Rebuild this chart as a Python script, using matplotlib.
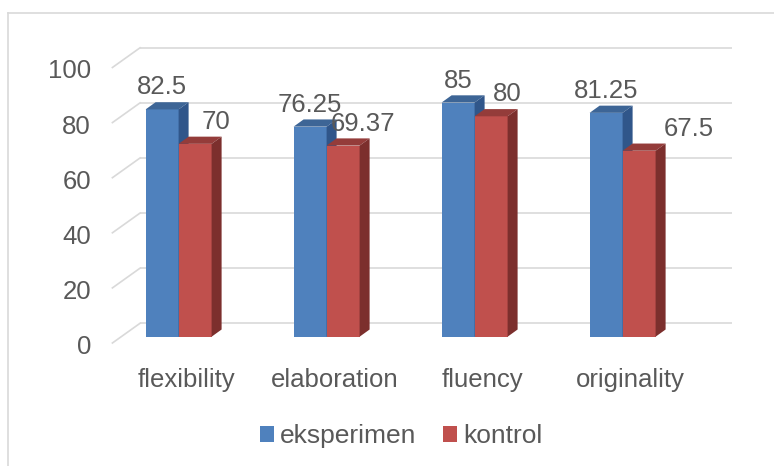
import matplotlib
matplotlib.use("Agg")
import matplotlib.pyplot as plt
from matplotlib.patches import Polygon, Patch
from matplotlib.lines import Line2D
from matplotlib.transforms import ScaledTranslation

# ---- data ----
categories = ["flexibility", "elaboration", "fluency", "originality"]
series_names = ["eksperimen", "kontrol"]
eksperimen = [82.5, 76.25, 85, 81.25]
kontrol = [70, 69.37, 80, 67.5]
y_ticks = [0, 20, 40, 60, 80, 100]

# ---- style ----
W, H, DPI = 774, 466, 100
TEXT = "#595959"
GRID = "#D9D9D9"
FACE = {"eksperimen": ("#4F81BD", "#3D6596", "#30568A"),
        "kontrol": ("#C0504D", "#943C3A", "#7C2F2D")}
FS = 18.5
FS_LEGEND = 19

plt.rcParams["font.family"] = ["Liberation Sans", "DejaVu Sans"]

fig = plt.figure(figsize=(W / DPI, H / DPI), dpi=DPI)

# axes = plane of the bars' front faces (pixel geometry of the plot area)
left_px, right_px = 121.2, 713.2
zero_px, top_px = 336.7, 61.2
ax = fig.add_axes([left_px / W, 1 - zero_px / H,
                   (right_px - left_px) / W, (zero_px - top_px) / H])
ax.set_xlim(-0.5, len(categories) - 0.5)
ax.set_ylim(0, 100)
ax.axis("off")

# oblique depth offsets in pixels (right, up) relative to the bar plane
FRONT = (-8.8, -6.3)
BACK = (18.8, 13.4)
DEPTH = (10.0, 7.2)


def shifted(dx, dy):
    return ax.transData + ScaledTranslation(dx / DPI, dy / DPI, fig.dpi_scale_trans)


o = ax.transData.transform((0, 0))
p = ax.transData.transform((1, 1))
ppx, ppy = p[0] - o[0], p[1] - o[1]

# back wall gridlines and floor-edge slants
x0, x1 = -0.5, len(categories) - 0.5
for v in y_ticks:
    ax.plot([x0, x1], [v, v], transform=shifted(*BACK), color=GRID, lw=1.2,
            clip_on=False, zorder=1, solid_capstyle="butt")
    ax.plot([x0 + FRONT[0] / ppx, x0 + BACK[0] / ppx],
            [v + FRONT[1] / ppy, v + BACK[1] / ppy],
            color=GRID, lw=1.2, clip_on=False, zorder=1)
    ax.text(x0, v, f"{v}", transform=shifted(FRONT[0] - 21.5, FRONT[1] - 11),
            ha="right", va="baseline", fontsize=FS, color=TEXT)

# bars with oblique top and side faces
bw = 33.0 / ppx
shift = -16.6 / ppx
ddx, ddy = DEPTH[0] / ppx, DEPTH[1] / ppy


def draw_series(xs, vals, colors, z):
    front, top, side = colors
    ax.bar(xs, vals, width=bw, align="edge", color=front, lw=0,
           zorder=z, clip_on=False)
    for xl, v in zip(xs, vals):
        xr = xl + bw
        ax.add_patch(Polygon([(xl, v), (xr, v), (xr + ddx, v + ddy), (xl + ddx, v + ddy)],
                             closed=True, facecolor=top, lw=0, zorder=z, clip_on=False))
        ax.add_patch(Polygon([(xr, 0), (xr, v), (xr + ddx, v + ddy), (xr + ddx, ddy)],
                             closed=True, facecolor=side, lw=0, zorder=z, clip_on=False))


xs_e = [i + shift - bw for i in range(len(categories))]
xs_k = [i + shift for i in range(len(categories))]
draw_series(xs_e, eksperimen, FACE["eksperimen"], 2)
draw_series(xs_k, kontrol, FACE["kontrol"], 3)

# value labels (kontrol labels nudged to the right)
kontrol_nudge = [20.5, 20.0, 16.0, 50.0]
for xl, v in zip(xs_e, eksperimen):
    ax.text(xl + bw / 2, v, f"{v:g}", transform=shifted(0, 15.0),
            ha="center", va="baseline", fontsize=FS, color=TEXT, zorder=5)
for xl, v, nd in zip(xs_k, kontrol, kontrol_nudge):
    ax.text(xl + bw / 2, v, f"{v:g}", transform=shifted(nd, 15.0),
            ha="center", va="baseline", fontsize=FS, color=TEXT, zorder=5)

# category labels on the front floor edge
for i, cat in enumerate(categories):
    ax.text(i, 0, cat, transform=shifted(FRONT[0], FRONT[1] - 44),
            ha="center", va="baseline", fontsize=FS, color=TEXT)

# legend
handles = [Patch(facecolor=FACE[n][0], edgecolor="none") for n in series_names]
fig.legend(handles, series_names, loc="center", bbox_to_anchor=(401.2 / W, 1 - 436 / H),
           ncol=2, frameon=False, fontsize=FS_LEGEND, labelcolor=TEXT,
           handlelength=0.55, handleheight=0.55, handletextpad=0.22,
           columnspacing=1.0, borderaxespad=0, borderpad=0)

# chart area border (runs off the right and bottom edges)
fig.add_artist(Line2D([7.5 / W, 7.5 / W], [0, 1 - 12.5 / H], transform=fig.transFigure,
                      color=GRID, lw=1.2))
fig.add_artist(Line2D([7.5 / W, 1], [1 - 12.5 / H, 1 - 12.5 / H], transform=fig.transFigure,
                      color=GRID, lw=1.2))

fig.savefig("out.png", dpi=DPI)
